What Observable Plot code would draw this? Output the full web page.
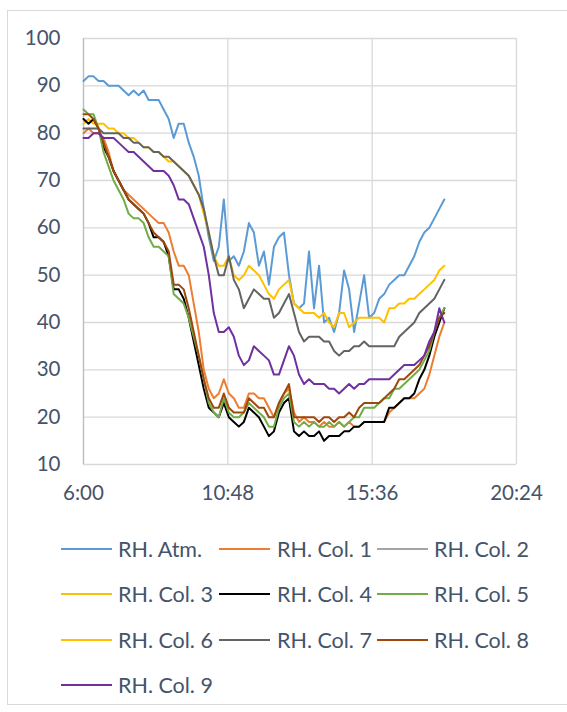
<!DOCTYPE html>
<html><head><meta charset="utf-8">
<script src="https://cdn.jsdelivr.net/npm/d3@7"></script>
<script src="https://cdn.jsdelivr.net/npm/@observablehq/plot@0.6"></script>
<style>
body{margin:0;background:#fff;font-family:Lato,"Liberation Sans",sans-serif;}
#frame{position:absolute;left:7px;top:10px;width:620px;height:695px;border:1px solid #d9d9d9;box-sizing:border-box;}
#chart{position:absolute;left:0;top:0;}
#legend{position:absolute;left:0;top:0;}
.lt{position:absolute;font-size:21.5px;line-height:24px;color:#44546a;white-space:nowrap;}
.ll{position:absolute;height:2px;}
</style></head><body>
<div id="frame"></div><div id="chart"></div><div id="legend"></div>
<script>
// minutes after 6:00
const minutes = [0,10,20,30,40,50,60,70,80,90,100,110,120,130,140,150,160,170,180,190,200,210,220,230,240,250,260,270,280,290,300,310,320,330,340,350,360,370,380,390,400,410,420,430,440,450,460,470,480,490,500,510,520,530,540,550,560,570,580,590,600,610,620,630,640,650,660,670,680,690,700,710,720];

const seriesNames = ["RH. Atm.","RH. Col. 1","RH. Col. 2","RH. Col. 3","RH. Col. 4","RH. Col. 5","RH. Col. 6","RH. Col. 7","RH. Col. 8","RH. Col. 9"];
const seriesColors = ["#5B9BD5","#ED7D31","#A5A5A5","#FFC000","#000000","#70AD47","#FFC000","#636363","#9E480E","#7030A0"];

const rhAtm = [91,92,92,91,91,90,90,90,89,88,89,88,89,87,87,87,85,83,79,82,82,78,75,71,64,58,53,56,66,53,54,52,55,61,59,52,55,48,56,58,59,50,44,43,44,55,43,52,40,41,38,42,51,47,38,44,50,41,42,45,46,48,49,50,50,52,54,57,59,60,62,64,66];
const rhCol1 = [80,81,80,80,79,76,72,70,68,67,66,65,64,63,62,61,61,59,55,52,52,50,44,38,30,26,24,25,28,25,24,22,22,25,25,24,24,22,20,23,25,26,21,19,20,19,19,18,19,18,18,19,18,19,18,18,19,19,19,19,19,21,22,23,24,24,24,25,26,29,33,37,40];
const rhCol2 = [];
const rhCol3 = [82,83,82,82,82,81,81,80,80,79,79,78,77,77,76,76,75,74,74,73,72,71,69,67,63,59,54,52,52,54,50,49,50,52,51,50,48,46,45,47,48,49,44,43,42,42,42,41,42,40,39,42,42,39,40,41,41,41,41,41,40,43,43,44,44,45,45,46,47,48,49,51,52];
const rhCol4 = [83,82,83,81,77,75,72,70,68,66,65,64,63,61,58,58,57,54,47,47,45,41,36,31,26,22,21,20,23,20,19,18,19,22,21,20,18,16,17,21,23,24,17,16,17,16,16,17,15,16,16,16,17,17,18,18,19,19,19,19,19,22,22,23,24,24,25,28,30,33,37,40,43];
const rhCol5 = [85,84,84,81,76,73,70,68,66,63,62,62,61,58,56,56,55,54,46,45,44,41,37,33,28,23,21,20,24,21,20,20,21,23,22,21,20,18,18,22,24,25,19,18,19,18,19,18,18,19,18,19,18,19,20,20,22,22,22,23,24,24,26,26,27,28,29,30,32,34,38,41,43];
const rhCol6 = [];
const rhCol7 = [81,81,81,81,80,80,80,80,79,79,78,78,77,77,76,76,75,75,74,73,72,71,69,67,64,59,54,50,50,54,49,47,43,45,47,46,45,45,41,42,44,46,42,38,36,37,37,37,36,36,34,33,34,34,35,35,36,35,35,35,35,35,35,37,38,39,40,42,43,44,45,47,49];
const rhCol8 = [84,84,83,81,78,75,72,70,68,66,65,64,63,61,59,58,57,55,48,48,47,43,38,33,28,24,22,22,25,22,21,21,21,24,23,22,22,20,20,23,25,27,20,20,20,20,20,19,20,20,19,20,20,21,20,22,23,23,23,23,24,25,26,28,28,29,30,31,33,35,38,41,42];
const rhCol9 = [79,79,80,80,79,79,79,78,77,76,76,75,74,73,72,72,72,71,69,66,66,65,62,59,56,50,42,38,38,39,37,33,31,32,35,34,33,32,29,29,32,35,33,29,27,28,27,27,27,26,26,25,26,27,26,27,27,28,28,28,28,28,29,30,31,31,31,32,33,36,38,43,40];

const xTickValues = [0,288,576,864];
const xTickLabels = ["6:00","10:48","15:36","20:24"];
const yTickValues = [10,20,30,40,50,60,70,80,90,100];

const allSeries = [rhAtm,rhCol1,rhCol2,rhCol3,rhCol4,rhCol5,rhCol6,rhCol7,rhCol8,rhCol9];
const rows = [];
allSeries.forEach((vals,i)=>vals.forEach((v,j)=>rows.push({s:seriesNames[i], t:minutes[j], v})));

const lineMarks = seriesNames.map((name,i)=>Plot.line(rows.filter(d=>d.s===name),{x:"t",y:"v",stroke:seriesColors[i],strokeWidth:2,strokeLinejoin:"round"}));

const plot = Plot.plot({
  width:567, height:520,
  marginLeft:83, marginRight:51, marginTop:38, marginBottom:56,
  style:{fontFamily:"Lato, 'Liberation Sans', sans-serif", fontSize:"20.5px", color:"#44546a", background:"transparent"},
  x:{domain:[0,864], ticks:xTickValues},
  y:{domain:[10,100]},
  marks:[
    Plot.gridY(yTickValues,{stroke:"#d9d9d9",strokeOpacity:1,strokeWidth:1.3}),
    Plot.gridX(xTickValues,{stroke:"#d9d9d9",strokeOpacity:1,strokeWidth:1.3}),
    Plot.ruleX([0],{stroke:"#b7bfcc",strokeWidth:1.3}),
    Plot.axisY(yTickValues,{tickSize:0,tickPadding:23,label:null,fontSize:20.5}),
    Plot.axisX(xTickValues,{tickSize:0,tickPadding:21,label:null,fontSize:20.5,tickFormat:(d)=>xTickLabels[xTickValues.indexOf(d)]}),
    ...lineMarks
  ]
});
document.getElementById("chart").appendChild(plot);

// legend
const legendCols = [{lx:61,tx:118},{lx:219,tx:277},{lx:377,tx:434}];
const legendRows = [549,594,640,685];
const leg = document.getElementById("legend");
seriesNames.forEach((name,i)=>{
  const c = legendCols[i%3], ry = legendRows[Math.floor(i/3)];
  const l = document.createElement("div"); l.className="ll";
  l.style.left=c.lx+"px"; l.style.top=(ry-1)+"px"; l.style.width="51px"; l.style.background=seriesColors[i];
  const t = document.createElement("div"); t.className="lt";
  t.style.left=c.tx+"px"; t.style.top=(ry-12)+"px"; t.textContent=name;
  leg.appendChild(l); leg.appendChild(t);
});
</script>
</body></html>
